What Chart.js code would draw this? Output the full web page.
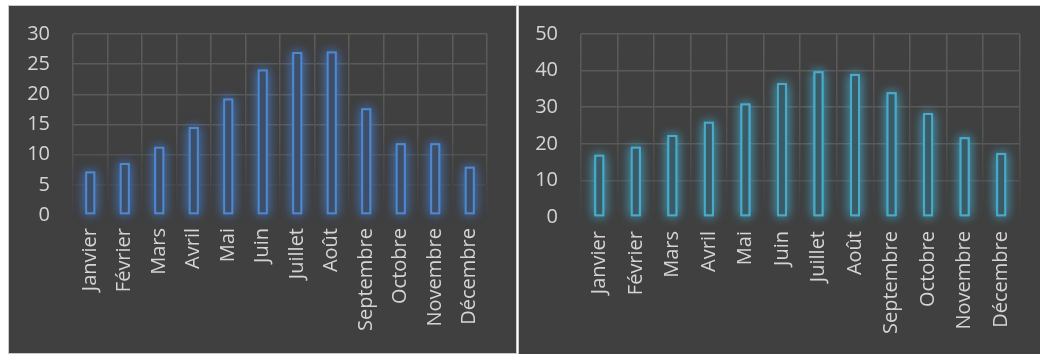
<!DOCTYPE html>
<html><head><meta charset="utf-8">
<script src="https://cdn.jsdelivr.net/npm/chart.js@4/dist/chart.umd.min.js"></script>
<style>
html,body{margin:0;padding:0;background:#ffffff;width:1040px;height:354px;overflow:hidden;}
.panel{position:absolute;background:#404040;box-sizing:border-box;}
#p1{left:8px;top:5px;width:509px;height:349px;border:1px solid #c8c8c8;}
#p2{left:518px;top:5px;width:522px;height:349px;border-left:1px solid #c8c8c8;border-top:1px solid #c8c8c8;}
.wrap{position:absolute;}
#w1{left:9px;top:6px;width:507px;height:347px;}
#w2{left:519px;top:6px;width:521px;height:348px;}
</style></head>
<body>
<div class="panel" id="p1"></div>
<div class="panel" id="p2"></div>
<div class="wrap" id="w1"><canvas id="c1"></canvas></div>
<div class="wrap" id="w2"><canvas id="c2"></canvas></div>
<script>
const months = ['Janvier','Février','Mars','Avril','Mai','Juin','Juillet','Août','Septembre','Octobre','Novembre','Décembre'];
const valuesLeft = [7.2, 8.6, 11.3, 14.6, 19.3, 24.1, 27.0, 27.1, 17.7, 11.9, 11.9, 8.0];
const valuesRight = [17.0, 19.2, 22.4, 26.0, 31.0, 36.6, 39.8, 39.1, 34.1, 28.4, 21.8, 17.5];
const ticksLeft = [0, 5, 10, 15, 20, 25, 30];
const ticksRight = [0, 10, 20, 30, 40, 50];

// soft glow behind each bar, placed from the bar elements computed by Chart.js
const glow = {
  id: 'glow',
  beforeDatasetDraw(chart, args, opts) {
    const c = chart.ctx;
    c.save();
    c.shadowColor = opts.color;
    c.shadowBlur = opts.blur;
    c.fillStyle = opts.color;
    for (let i = 0; i < 2; i++) {
      args.meta.data.forEach(b => {
        const p = b.getProps(['x', 'y', 'base', 'width'], true);
        c.fillRect(p.x - p.width / 2, Math.min(p.y, p.base), p.width, Math.abs(p.base - p.y));
      });
    }
    c.restore();
  }
};

const FONT = {family: "'Open Sans', 'DejaVu Sans', sans-serif", size: 20};
const TXT = '#d4d4d4';

function vGrid(ctx) {
  const ca = ctx.chart.chartArea;
  if (!ca) return '#585858';
  const g = ctx.chart.ctx.createLinearGradient(0, ca.top, 0, ca.bottom);
  g.addColorStop(0, '#5c5c5c');
  g.addColorStop(0.55, '#555555');
  g.addColorStop(1, '#434343');
  return g;
}

function makeChart(id, values, ticks, cfg) {
  const maxV = ticks[ticks.length - 1];
  return new Chart(document.getElementById(id), {
    type: 'bar',
    data: {
      labels: months,
      datasets: [{
        data: values,
        backgroundColor: cfg.fill,
        borderColor: cfg.stroke,
        borderWidth: 2,
        borderSkipped: false,
        barPercentage: cfg.barPct,
        categoryPercentage: 1
      }]
    },
    plugins: [glow],
    options: {
      responsive: true,
      maintainAspectRatio: false,
      animation: false,
      layout: {padding: {top: 28, right: cfg.padRight, bottom: 0, left: 0}},
      plugins: {
        legend: {display: false},
        tooltip: {enabled: false},
        glow: {color: cfg.glow, blur: 12}
      },
      scales: {
        x: {
          grid: {color: vGrid, lineWidth: 1.5, drawTicks: false, offset: true},
          border: {display: false},
          ticks: {color: TXT, font: FONT, minRotation: 90, maxRotation: 90, padding: cfg.xPad, autoSkip: false},
          afterFit(s) { s.height = cfg.xHeight; }
        },
        y: {
          min: 0, max: maxV,
          afterBuildTicks(s) { s.ticks = ticks.map(v => ({value: v})); },
          grid: {
            color: (c) => {
              const v = c.tick ? c.tick.value : 0;
              const f = v / maxV;
              if (f === 0) return 'rgba(0,0,0,0)';
              if (f < 0.2) return '#484848';
              if (f < 0.4) return '#525252';
              return '#5a5a5a';
            },
            lineWidth: 1.5, drawTicks: true, tickLength: 23, tickColor: 'rgba(0,0,0,0)'
          },
          border: {display: false},
          ticks: {color: TXT, font: FONT, padding: 0},
          afterFit(s) { s.width = cfg.yWidth; }
        }
      }
    }
  });
}

makeChart('c1', valuesLeft, ticksLeft, {
  fill: '#3d4e66', stroke: '#4f88cc', glow: 'rgba(70,130,215,0.75)',
  barPct: 0.29, padRight: 29, xHeight: 138, yWidth: 64, xPad: 13
});
makeChart('c2', valuesRight, ticksRight, {
  fill: '#3a5a66', stroke: '#48aac8', glow: 'rgba(70,180,215,0.75)',
  barPct: 0.273, padRight: 20, xHeight: 137, yWidth: 62, xPad: 14
});
</script>
</body></html>
